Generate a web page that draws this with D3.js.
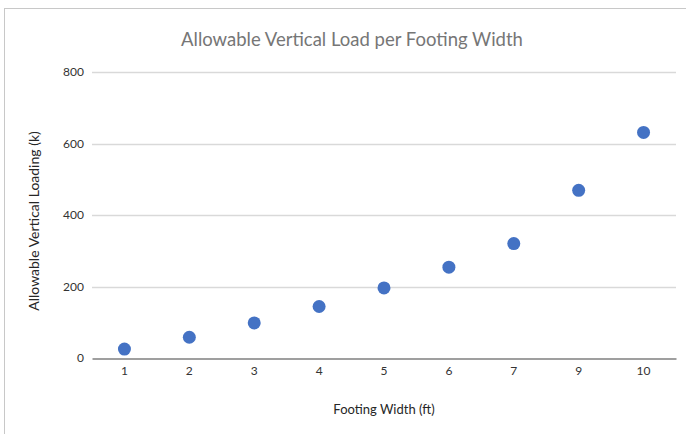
<!DOCTYPE html>
<html><head><meta charset="utf-8">
<script src="https://cdn.jsdelivr.net/npm/d3@7"></script>
<style>body{margin:0;background:#fff;} svg{display:block;}</style>
</head><body>
<script>
const categories = ["1","2","3","4","5","6","7","9","10"];
const loads = [25, 58, 98, 144, 196, 254, 320, 469, 631];
const yTicks = [0, 200, 400, 600, 800];
const title = "Allowable Vertical Load per Footing Width";
const xTitle = "Footing Width (ft)";
const yTitle = "Allowable Vertical Loading (k)";

(function(){
const W = 686, H = 434;
const svg = d3.select("body").append("svg").attr("width", W).attr("height", H);
svg.append("rect").attr("x",4.5).attr("y",8.5).attr("width",W+10).attr("height",H+10)
  .attr("fill","#fff").attr("stroke","#c8c8c8");

const mLeft = 92, mRight = 676, mTop = 72, mBottom = 358;
const x = d3.scaleBand().domain(categories).range([mLeft, mRight]);
const y = d3.scaleLinear().domain([0, 800]).range([mBottom, mTop]);
const font = "Lato, 'Open Sans', sans-serif";

svg.append("g").selectAll("line").data(yTicks.filter(d=>d>0)).join("line")
  .attr("x1", mLeft).attr("x2", mRight).attr("y1", d=>Math.round(y(d))+0.5).attr("y2", d=>Math.round(y(d))+0.5)
  .attr("stroke","#d9d9d9").attr("stroke-width",1.3);

const yAxis = svg.append("g").attr("transform",`translate(${mLeft},0)`)
  .call(d3.axisLeft(y).tickValues(yTicks).tickSize(0).tickPadding(8));
yAxis.select(".domain").remove();
yAxis.selectAll("text").attr("font-family",font).attr("font-size",12).attr("fill","#333");

const xAxis = svg.append("g").attr("transform",`translate(0,${Math.round(mBottom)+0.5})`)
  .call(d3.axisBottom(x).tickSize(0).tickPadding(8));
xAxis.select(".domain").attr("stroke","#7f7f7f").attr("stroke-width",1.3);
xAxis.selectAll("text").attr("font-family",font).attr("font-size",12).attr("fill","#333");

svg.append("g").selectAll("circle").data(categories).join("circle")
  .attr("cx", d=>x(d)+x.bandwidth()/2).attr("cy",(d,i)=>y(loads[i]))
  .attr("r",6.5).attr("fill","#4472c4");

svg.append("text").attr("x",352).attr("y",46).attr("text-anchor","middle")
  .attr("font-family",font).attr("font-size",18.5).attr("fill","#767676").text(title);
svg.append("text").attr("x",384).attr("y",414).attr("text-anchor","middle")
  .attr("font-family",font).attr("font-size",13).attr("fill","#262626").text(xTitle);
svg.append("text").attr("transform","translate(39,221) rotate(-90)").attr("text-anchor","middle")
  .attr("font-family",font).attr("font-size",14).attr("fill","#262626").text(yTitle);
})();
</script>
</body></html>
